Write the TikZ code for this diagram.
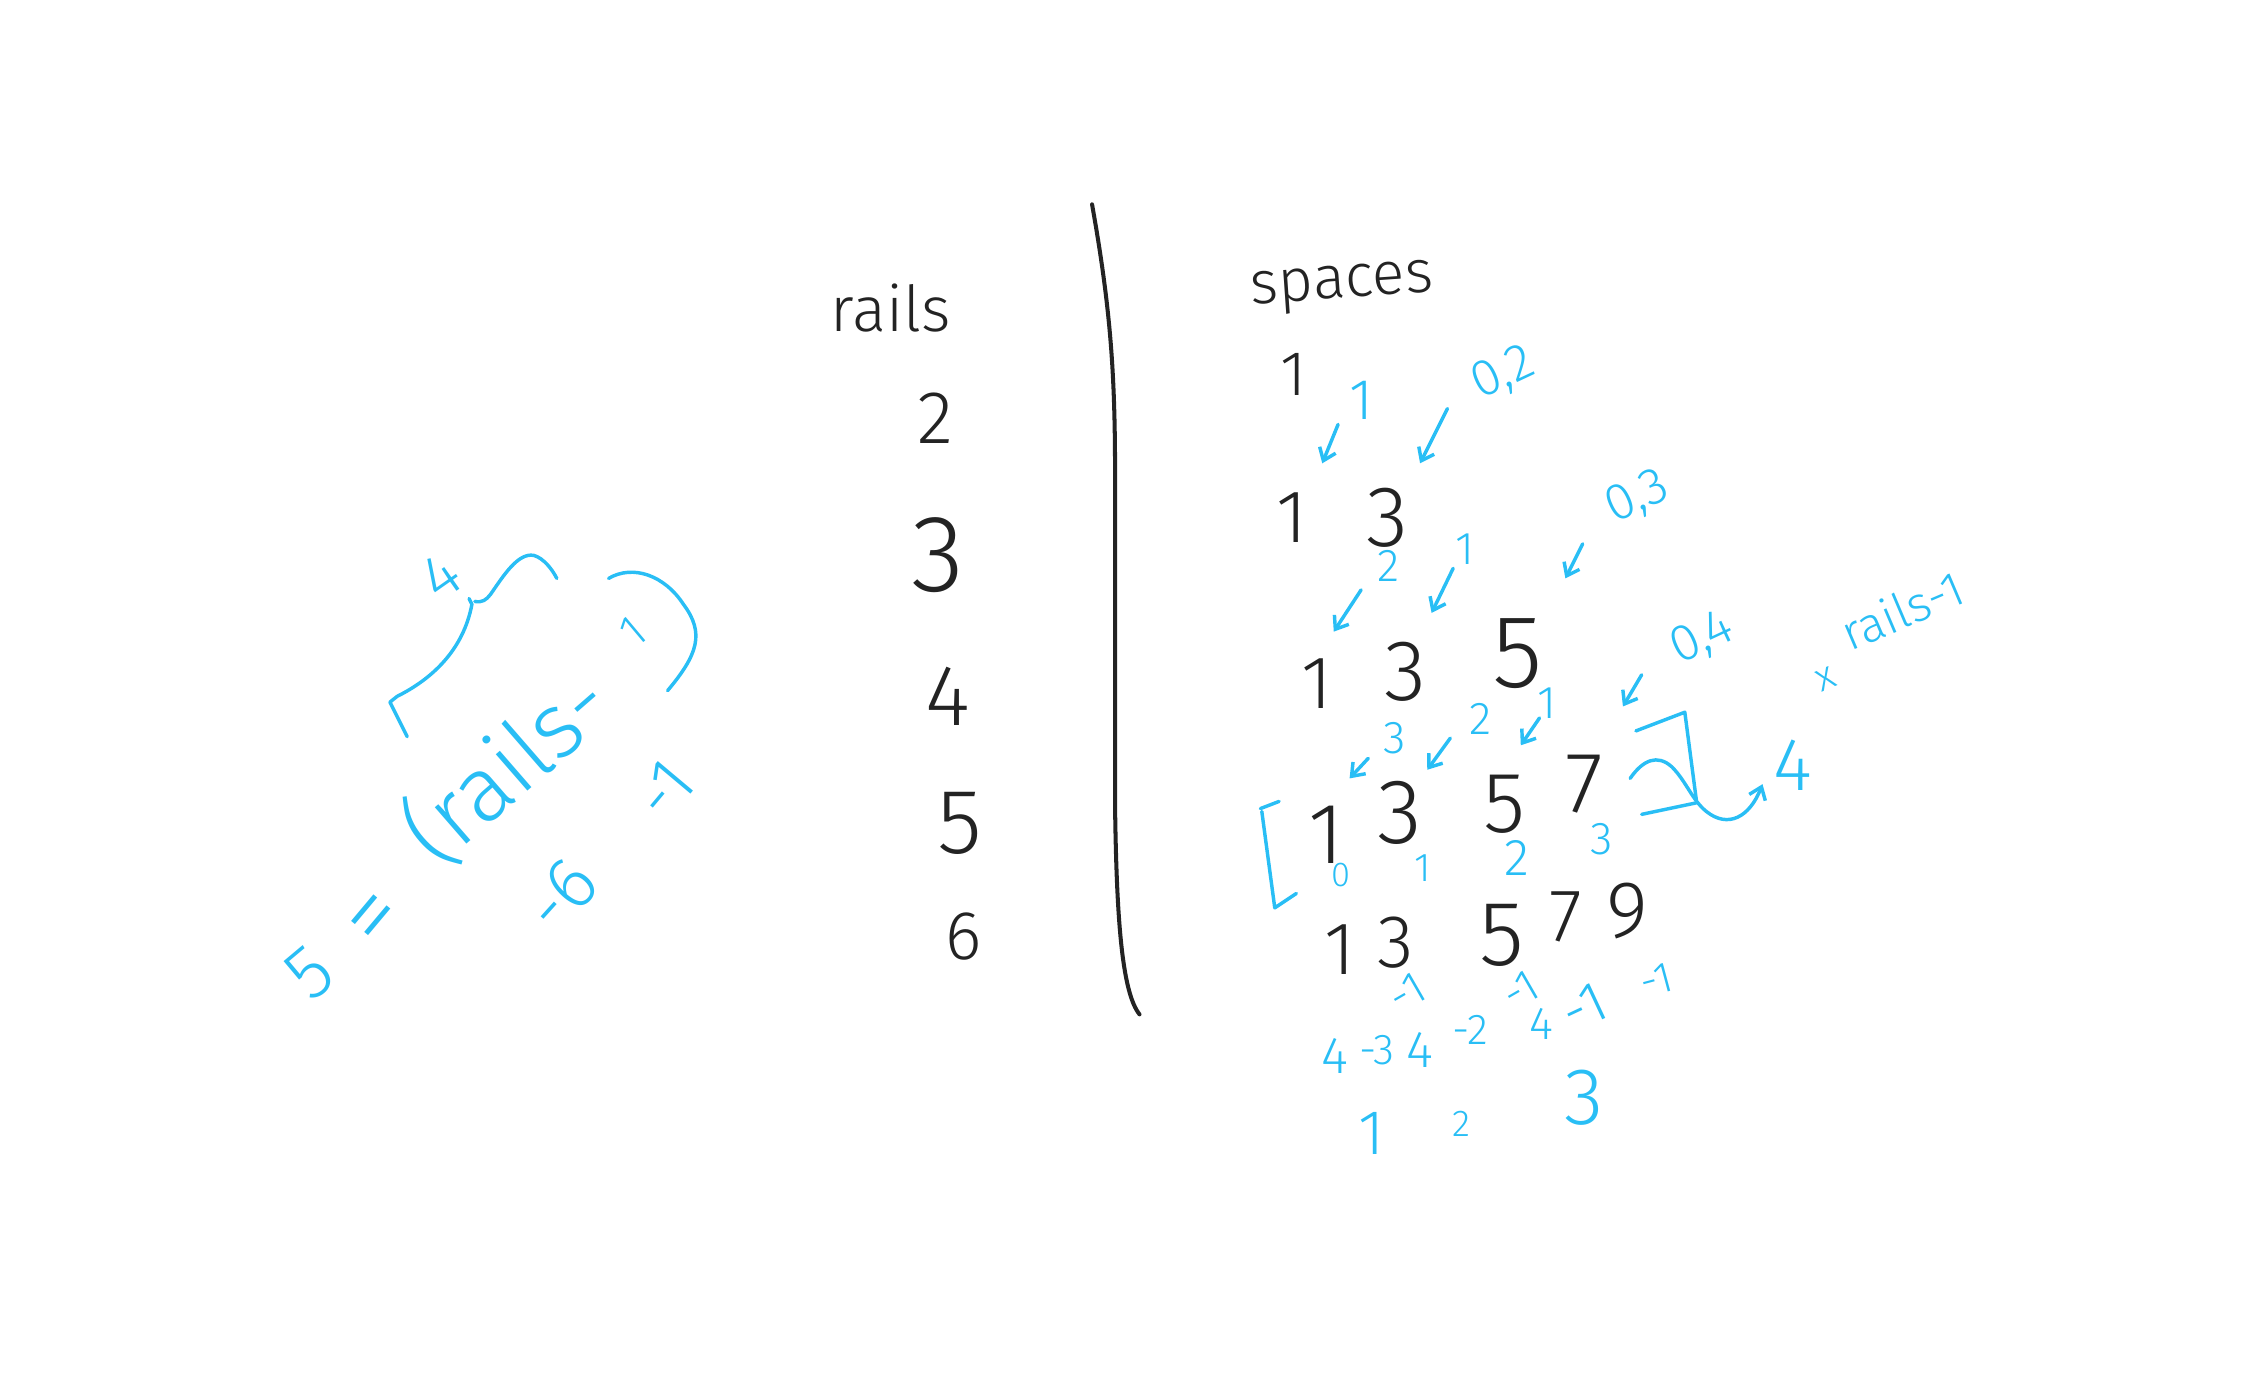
\documentclass[tikz,border=0pt]{standalone}
\usepackage{fontspec}
\setmainfont{Fira Sans}[UprightFont=* Light]
\usetikzlibrary{arrows.meta}
\definecolor{penblue}{RGB}{41,190,245}
\definecolor{inkgray}{RGB}{35,35,35}
\newcommand{\penpt}[1]{\fontsize{#1}{#1}\selectfont}
\tikzset{
  ink/.style={text=inkgray, inner sep=0pt, font=\penpt{30}},
  pen/.style={text=penblue, inner sep=0pt, font=\penpt{18}},
  inkline/.style={draw=inkgray, line width=1.4pt, line cap=round},
  penline/.style={draw=penblue, line width=1.2pt, line cap=round, line join=round},
  penarrow/.style={penline, -{Straight Barb[length=4pt,width=6pt]}}
}

\begin{document}
\begin{tikzpicture}[x=0.5pt,y=-0.5pt]
\useasboundingbox (0,0) rectangle (1568,966);
%% rails column
\node[ink, font=\penpt{22}] (railstitle) at (619,214) {rails};
\node[ink, font=\penpt{26}] (rail2) at (650,291) {2};
\node[ink, font=\penpt{38}] (rail3) at (652,386) {3};
\node[ink, font=\penpt{30}] (rail4) at (659,484) {4};
\node[ink, font=\penpt{32}] (rail5) at (667,572) {5};
\node[ink, font=\penpt{24}] (rail6) at (670,651) {6};
\draw[inkline] (759,142) .. controls (772,215) and (775,260) .. (775,330) -- (775,560) .. controls (776,640) and (780,690) .. (792,705);
%% spaces column
\node[ink, font=\penpt{21}, rotate=4] (spacestitle) at (933,200) {spaces};
\node[ink, font=\penpt{22}] (s11) at (899,260) {1};
\node[ink, font=\penpt{26}] (s21) at (898,360) {1};
\node[ink, font=\penpt{30}] (s22) at (964,360) {3};
\node[ink, font=\penpt{26}] (s31) at (915,475) {1};
\node[ink, font=\penpt{30}] (s32) at (977,467) {3};
\node[ink, font=\penpt{36}] (s33) at (1055,454) {5};
\node[ink, font=\penpt{30}] (s41) at (922,580) {1};
\node[ink, font=\penpt{32}] (s42) at (973,565) {3};
\node[ink, font=\penpt{30}] (s43) at (1046,559) {5};
\node[ink, font=\penpt{30}] (s44) at (1101,545) {7};
\node[ink, font=\penpt{26}] (s51) at (931,660) {1};
\node[ink, font=\penpt{26}] (s52) at (970,655) {3};
\node[ink, font=\penpt{32}] (s53) at (1044,650) {5};
\node[ink, font=\penpt{26}] (s54) at (1088,637) {7};
\node[ink, font=\penpt{28}] (s55) at (1131,633) {9};
%% blue steps between rows
\node[pen, font=\penpt{20}] (d21) at (946,278) {1};
\node[pen, rotate=25] (d22) at (1045,260) {0,2};
\node[pen, font=\penpt{16}] (d31) at (965,393) {2};
\node[pen, font=\penpt{16}] (d32) at (1018,382) {1};
\node[pen, rotate=25] (d33) at (1138,346) {0,3};
\node[pen, font=\penpt{16}] (d41) at (969,513) {3};
\node[pen, font=\penpt{16}] (d42) at (1029,500) {2};
\node[pen, font=\penpt{16}] (d43) at (1075,489) {1};
\node[pen, rotate=25] (d44) at (1183,444) {0,4};
\coordinate (a21) at (930,295);  \coordinate (b21) at (919,322);
\coordinate (a22) at (1006,284); \coordinate (b22) at (987,322);
\coordinate (a31) at (946,410);  \coordinate (b31) at (927,439);
\coordinate (a32) at (1010,395); \coordinate (b32) at (995,426);
\coordinate (a33) at (1100,378); \coordinate (b33) at (1088,402);
\coordinate (a41) at (951,527);  \coordinate (b41) at (938,541);
\coordinate (a42) at (1008,513); \coordinate (b42) at (992,535);
\coordinate (a43) at (1070,499); \coordinate (b43) at (1057,518);
\coordinate (a44) at (1141,469); \coordinate (b44) at (1128,491);
\draw[penarrow] (a21) -- (b21);
\draw[penarrow] (a22) -- (b22);
\draw[penarrow] (a31) -- (b31);
\draw[penarrow] (a32) -- (b32);
\draw[penarrow] (a33) -- (b33);
\draw[penarrow] (a41) -- (b41);
\draw[penarrow] (a42) -- (b42);
\draw[penarrow] (a43) -- (b43);
\draw[penarrow] (a44) -- (b44);
%% indices under row of four
\node[pen, font=\penpt{12}] (i0) at (932,608) {0};
\node[pen, font=\penpt{14}] (i1) at (989,603) {1};
\node[pen, font=\penpt{18}] (i2) at (1054,596) {2};
\node[pen, font=\penpt{16}] (i3) at (1113,583) {3};
\draw[penline] (876,562) -- (889,557);
\draw[penline] (877,564) -- (886,631) -- (901,621);
\draw[penline] (1137,508) -- (1171,495) -- (1179,556);
\draw[penline] (1141,566) -- (1179,558);
\node[pen, font=\penpt{26}] (four) at (1246,532) {4};
\coordinate (hook) at (1133,541);
\coordinate (hooktip) at (1225,545);
\draw[penarrow] (hook) .. controls (1142,528) and (1152,524) .. (1162,533) .. controls (1172,543) and (1176,556) .. (1186,564) .. controls (1201,576) and (1216,568) .. (hooktip);
\node[pen, font=\penpt{14}, rotate=23] (times) at (1269,472) {x};
\node[pen, font=\penpt{17}, rotate=23] (railsminus) at (1322,424) {rails-1};
%% differences under last row
\node[pen, font=\penpt{16}, rotate=30] (m1) at (978,690) {-1};
\node[pen] (f1) at (928,734) {4};
\node[pen, font=\penpt{15}] (m3) at (957,730) {-3};
\node[pen] (f2) at (987,730) {4};
\node[pen, font=\penpt{15}] (m2) at (1022,716) {-2};
\node[pen, font=\penpt{16}, rotate=30] (m1b) at (1057,688) {-1};
\node[pen, font=\penpt{16}] (f3) at (1071,712) {4};
\node[pen, font=\penpt{20}, rotate=25] (m1c) at (1101,700) {-1};
\node[pen, font=\penpt{15}, rotate=15] (m1d) at (1151,681) {-1};
\node[pen, font=\penpt{22}] (g1) at (953,788) {1};
\node[pen, font=\penpt{13}] (g2) at (1016,781) {2};
\node[pen, font=\penpt{28}] (g3) at (1101,763) {3};
%% slanted formula on the left
\node[pen, font=\penpt{26}, rotate=40] (lhs) at (215,676) {5};
\node[pen, font=\penpt{34}, rotate=50] (eq) at (264,641) {=};
\node[pen, font=\penpt{32}, rotate=41] (railsexpr) at (352,533) {(rails-};
\node[pen, font=\penpt{16}, rotate=40] (one) at (440,439) {1};
\draw[penline] (423,402) .. controls (440,392) and (462,400) .. (475,420) .. controls (490,440) and (485,455) .. (464,480);
\draw[penline] (283,512) -- (271,488) -- (276,484) .. controls (300,472) and (322,452) .. (328,420) -- (326,416);
\draw[penline] (330,418) .. controls (335,419) and (338,417) .. (341,413) .. controls (350,400) and (360,384) .. (371,386) .. controls (378,388) and (384,396) .. (387,402);
\node[pen, font=\penpt{22}, rotate=35] (bracelabel) at (306,401) {4};
\node[pen, font=\penpt{26}, rotate=48] (minussix) at (390,622) {-6};
\node[pen, font=\penpt{24}, rotate=50] (minusone) at (462,549) {-1};
\end{tikzpicture}
\end{document}
